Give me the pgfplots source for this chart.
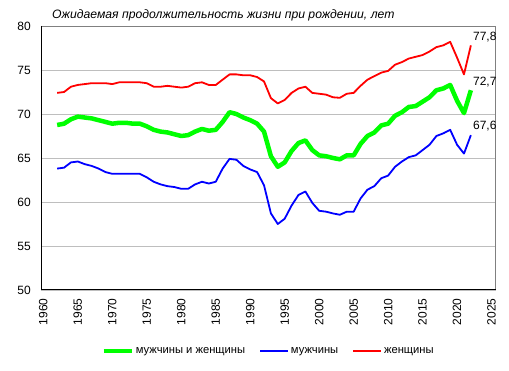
\documentclass[border=0pt]{standalone}
\usepackage{pgfplots}
\pgfplotsset{compat=1.18}
\usepackage{pgfplotstable}
\usepackage{fontspec}
\setmainfont{Liberation Sans}
\definecolor{gridgray}{RGB}{190,190,190}
\definecolor{boxgray}{RGB}{128,128,128}
\pgfplotstableread{
year total male female
1962 68.75 63.8 72.4
1963 68.9 63.9 72.5
1964 69.4 64.5 73.1
1965 69.7 64.6 73.3
1966 69.6 64.3 73.4
1967 69.5 64.1 73.5
1968 69.3 63.8 73.5
1969 69.1 63.4 73.5
1970 68.9 63.2 73.4
1971 69.0 63.2 73.6
1972 69.0 63.2 73.6
1973 68.9 63.2 73.6
1974 68.9 63.2 73.6
1975 68.6 62.8 73.5
1976 68.2 62.3 73.1
1977 68.0 62.0 73.1
1978 67.9 61.8 73.2
1979 67.7 61.7 73.1
1980 67.5 61.5 73.0
1981 67.6 61.5 73.1
1982 68.0 62.0 73.5
1983 68.3 62.3 73.6
1984 68.1 62.1 73.3
1985 68.2 62.3 73.3
1986 69.1 63.8 73.9
1987 70.2 64.9 74.5
1988 70.0 64.8 74.5
1989 69.6 64.1 74.4
1990 69.3 63.7 74.4
1991 68.9 63.4 74.2
1992 68.0 61.9 73.7
1993 65.2 58.7 71.8
1994 64.0 57.5 71.2
1995 64.5 58.1 71.6
1996 65.8 59.6 72.4
1997 66.7 60.8 72.9
1998 67.0 61.2 73.1
1999 65.9 59.9 72.4
2000 65.3 59.0 72.3
2001 65.2 58.9 72.2
2002 65.0 58.7 71.9
2003 64.85 58.55 71.84
2004 65.3 58.9 72.3
2005 65.3 58.9 72.4
2006 66.6 60.4 73.2
2007 67.5 61.4 73.9
2008 67.9 61.8 74.3
2009 68.7 62.7 74.7
2010 68.9 63.0 74.9
2011 69.8 64.0 75.6
2012 70.2 64.6 75.9
2013 70.8 65.1 76.3
2014 70.9 65.3 76.5
2015 71.4 65.9 76.7
2016 71.9 66.5 77.1
2017 72.7 67.5 77.6
2018 72.9 67.8 77.8
2019 73.3 68.2 78.2
2020 71.5 66.5 76.4
2021 70.1 65.5 74.5
2022 72.7 67.6 77.8
}\datatable
\begin{document}
\begin{tikzpicture}
\begin{axis}[
  scale only axis,
  width=454.4pt, height=264pt,
  xmin=1959.7, xmax=2025.6,
  ymin=50, ymax=80,
  xtick={1960,1965,...,2025},
  ytick={50,55,...,80},
  ymajorgrids,
  grid style={gridgray, line width=0.8pt},
  axis line style={draw=none},
  major tick length=0pt,
  /pgf/number format/assume math mode=true,
  /pgf/number format/1000 sep={},
  tick label style={font=\fontsize{12}{14}\selectfont},
  xticklabel style={rotate=90, anchor=east, xshift=0pt},
  xtick pos=bottom, ytick pos=left,
  xticklabel shift=5pt,
  yticklabel shift=7pt,
  legend style={at={(0.5,-0.231)}, anchor=center, draw=none, fill=none,
    legend columns=3, font=\fontsize{11.2}{13}\selectfont,
    /tikz/every even column/.append style={column sep=12pt}},
  legend cell align=left,
  legend image code/.code={\draw[#1] (0pt,0pt) -- (28pt,0pt);},
  clip=false,
]
\draw[boxgray, line width=0.8pt] (rel axis cs:0,1) -- (rel axis cs:1,1) -- (rel axis cs:1,0);
\draw[black, line width=1pt] (rel axis cs:0,1) -- (rel axis cs:0,0) -- (rel axis cs:1,0);
\addplot[color={rgb,255:red,0;green,255;blue,0}, line width=4.5pt, line join=round] table[x=year, y=total] {\datatable};
\addlegendentry{мужчины и женщины}
\addplot[color={rgb,255:red,0;green,0;blue,255}, line width=1.8pt, line join=round] table[x=year, y=male] {\datatable};
\addlegendentry{мужчины}
\addplot[color={rgb,255:red,255;green,0;blue,0}, line width=1.8pt, line join=round] table[x=year, y=female] {\datatable};
\addlegendentry{женщины}
\node[anchor=west, font=\fontsize{12}{14}\selectfont, inner sep=0pt] at (axis cs:2022.3,78.75) {77,8};
\node[anchor=west, font=\fontsize{12}{14}\selectfont, inner sep=0pt] at (axis cs:2022.3,73.65) {72,7};
\node[anchor=west, font=\fontsize{12}{14}\selectfont, inner sep=0pt] at (axis cs:2022.3,68.6) {67,6};
\node[anchor=base west, font=\fontsize{12.2}{14}\itshape, inner sep=0pt] at (rel axis cs:0,1) [xshift=10.7pt, yshift=7.7pt] {Ожидаемая продолжительность жизни при рождении, лет};
\end{axis}
\pgfresetboundingbox
\path[use as bounding box] (-41.3pt,-81pt) rectangle (467.7pt,290pt);
\end{tikzpicture}
\end{document}
